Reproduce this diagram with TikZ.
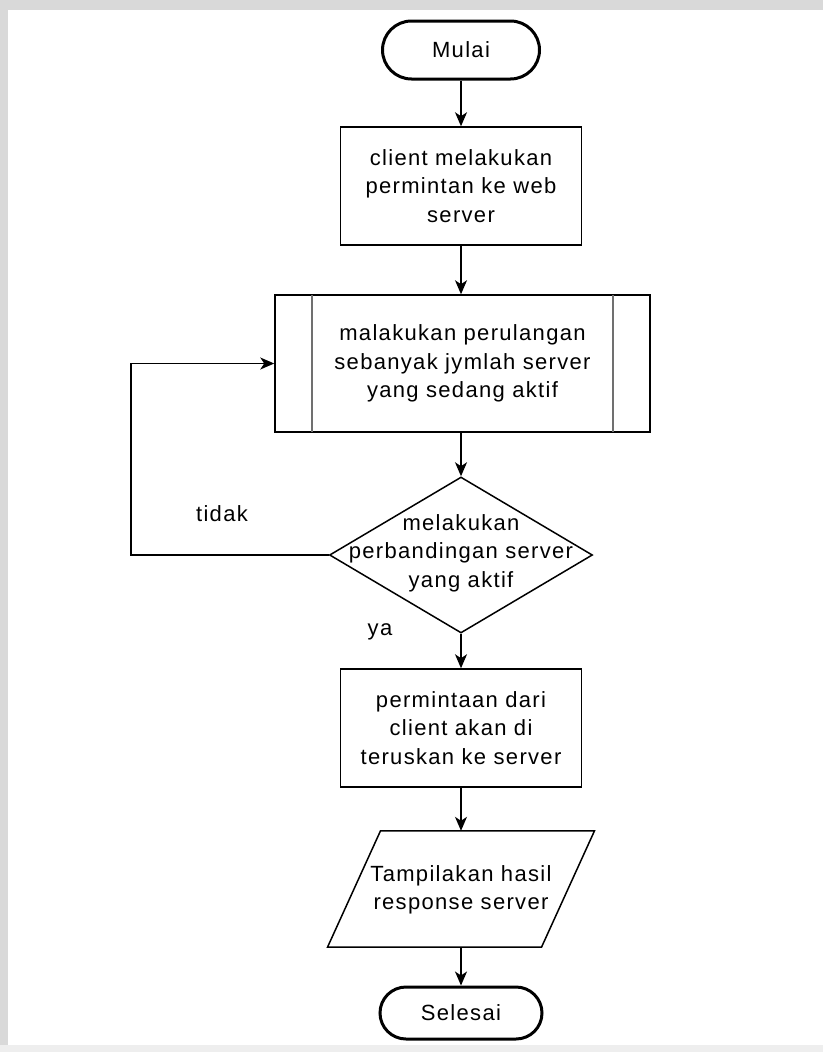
\documentclass[tikz,border=0pt]{standalone}
\usepackage{fontspec}
\setmainfont{Liberation Sans}[LetterSpace=6]
\usetikzlibrary{shapes.geometric,arrows.meta}
\definecolor{bggray}{HTML}{D9D9D9}
\definecolor{bglight}{HTML}{EEEEEE}
\definecolor{innergray}{HTML}{707070}
\tikzset{
  txt/.style={font=\fontsize{22pt}{28.5pt}\selectfont, align=center, inner sep=0pt},
  term/.style={draw, line width=3pt, minimum width=157pt, minimum height=58pt, inner sep=0pt},
  procbox/.style={draw, line width=1.5pt, minimum width=241pt, minimum height=118pt, inner sep=0pt},
  arr/.style={line width=1.5pt, -{Stealth[length=14pt,width=12pt,inset=4pt]}},
  plain/.style={line width=1.5pt}
}
\begin{document}
\begin{tikzpicture}[x=1pt,y=-1pt]
\useasboundingbox (0,0) rectangle (823,1052);
% background
\fill[bggray] (0,0) rectangle (823,1052);
\fill[bglight] (0,1045) rectangle (823,1052);
\fill[white] (8,10) rectangle (823,1045);

% start
\node[term, rounded corners=29pt] (start) at (461,50) {};
\node[txt] at (start) {Mulai};

% box 1
\node[procbox] (b1) at (461,186) {};
\node[txt] at (b1) {client melakukan\\permintan ke web\\server};

% predefined process
\node[draw, line width=1.5pt, minimum width=375pt, minimum height=137pt, inner sep=0pt] (pp) at (462.5,363.5) {};
\draw[innergray, line width=2pt] ([xshift=38pt,yshift=-0.75pt]pp.north west) -- ([xshift=38pt,yshift=0.75pt]pp.south west);
\draw[innergray, line width=2pt] ([xshift=-38pt,yshift=-0.75pt]pp.north east) -- ([xshift=-38pt,yshift=0.75pt]pp.south east);
\node[txt] at (pp) {malakukan perulangan\\sebanyak jymlah server\\yang sedang aktif};

% decision
\node[diamond, draw, line width=1.5pt, minimum width=263pt, minimum height=156pt, inner sep=0pt] (dec) at (461,555) {};
\node[txt] at ([yshift=2pt]dec.center) {melakukan\\perbandingan server\\yang aktif};

% box 3
\node[procbox] (b3) at (461,728) {};
\node[txt] at (b3) {permintaan dari\\client akan di\\teruskan ke server};

% io parallelogram
\node[minimum width=214pt, minimum height=116pt, inner sep=0pt] (io) at (461,889) {};
\draw[line width=1.5pt, line join=miter] ([xshift=-80.5pt]io.north) -- ([xshift=133.5pt]io.north) -- ([xshift=80.5pt]io.south) -- ([xshift=-133.5pt]io.south) -- cycle;
\node[txt] at ([yshift=-1pt]io.center) {Tampilakan hasil\\response server};

% end
\node[term, minimum width=162pt, minimum height=52pt, rounded corners=26pt] (stop) at (461,1013) {};
\node[txt] at (stop) {Selesai};

% connectors
\draw[arr] (start.south) -- (b1.north);
\draw[arr] (b1.south) -- (b1.south |- pp.north);
\draw[arr] (dec.north |- pp.south) -- (dec.north);
\draw[arr] (dec.south) -- (b3.north);
\draw[arr] (b3.south) -- (io.north);
\draw[arr] (io.south) -- (stop.north);

% loop back
\coordinate (lb) at (131,555);
\coordinate (lt) at (131,363.5);
\draw[arr] (dec.west) -- (lb) -- (lt) -- (pp.west);

% labels
\node[txt] (tidak) at (222,514) {tidak};
\node[txt] (ya) at (380,632) {ya};
\end{tikzpicture}
\end{document}
